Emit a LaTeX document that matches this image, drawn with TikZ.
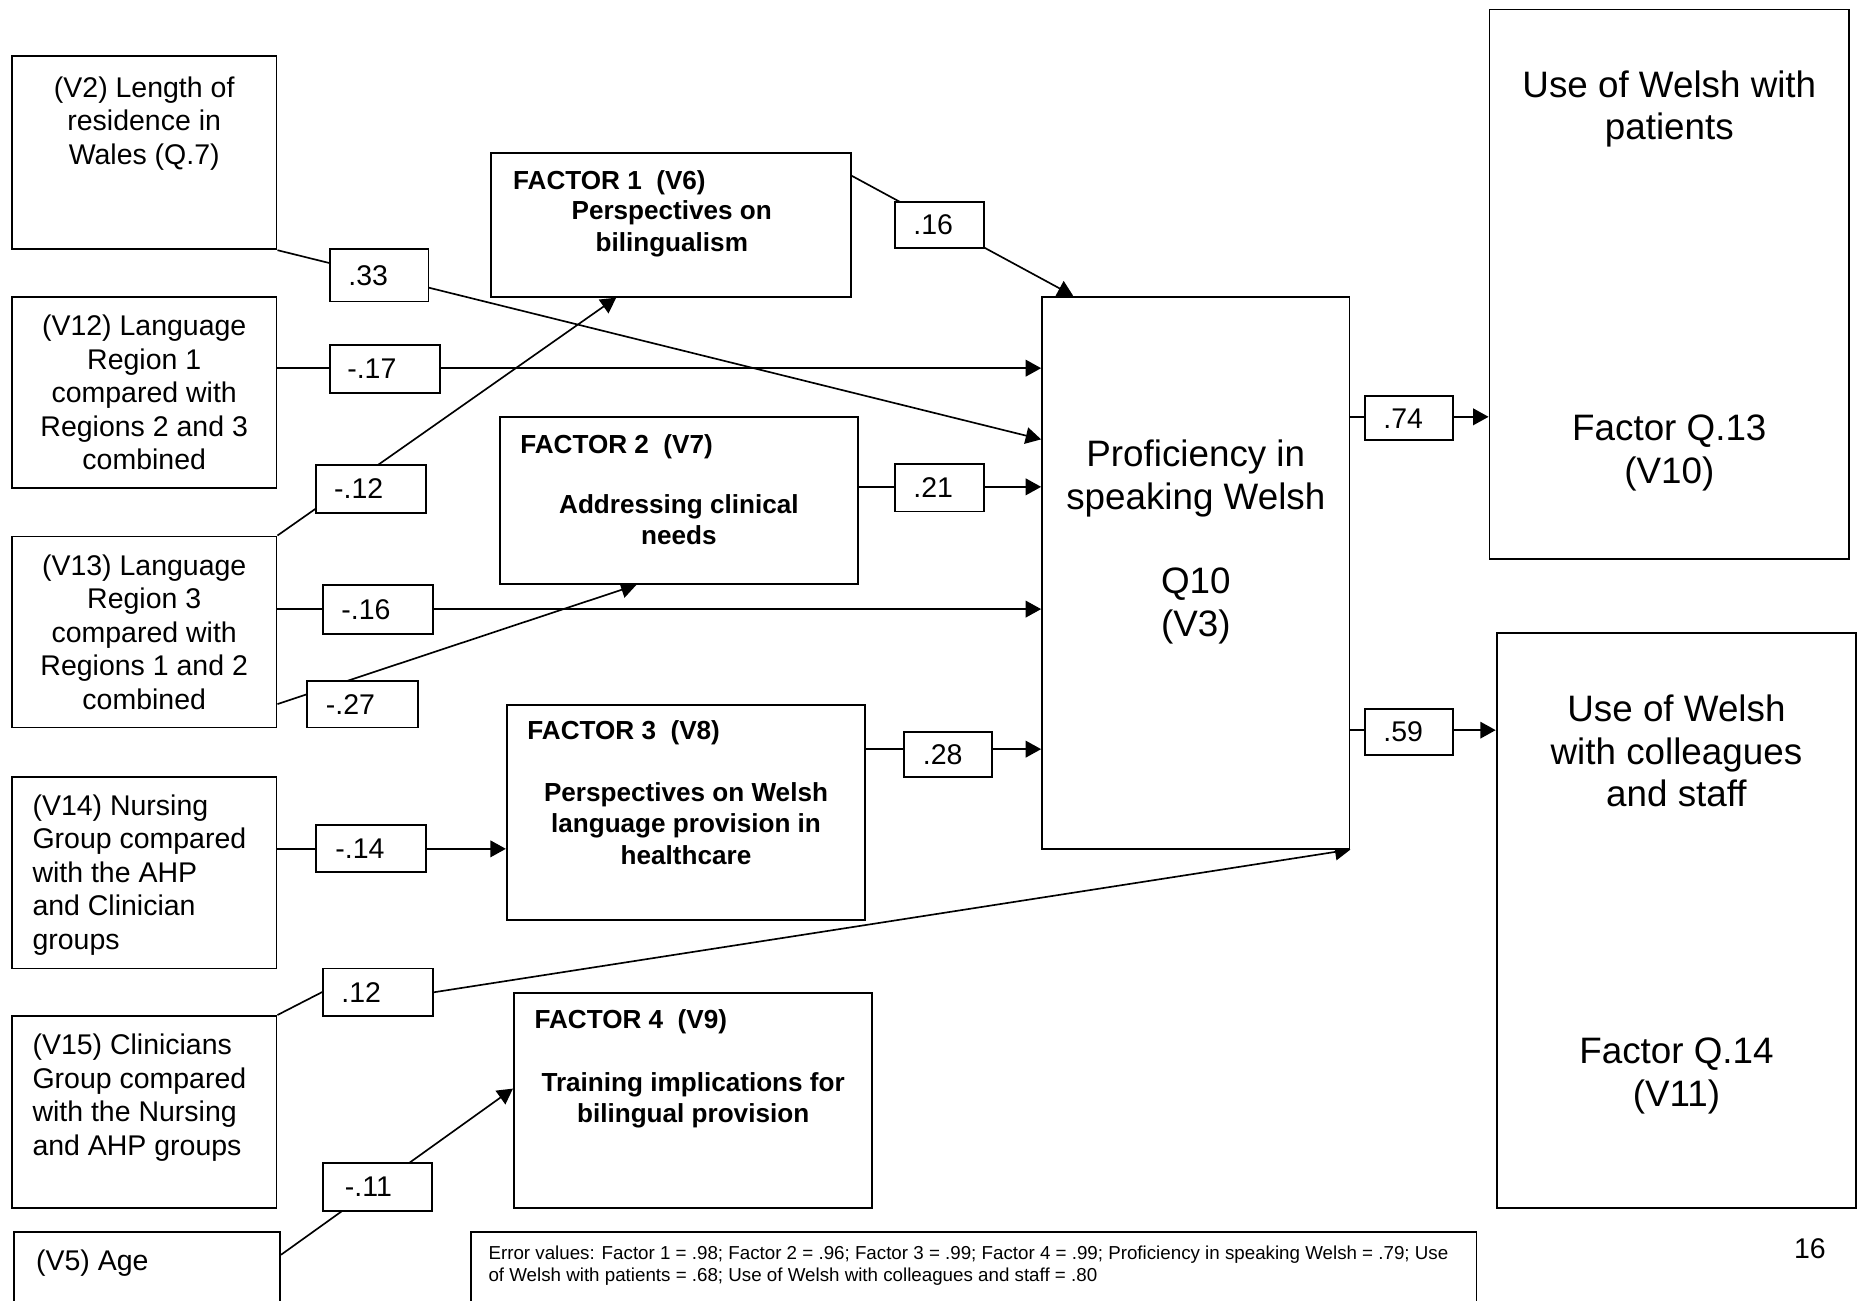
\documentclass[tikz,border=0pt]{standalone}
\usepackage{fontspec}
\setmainfont{Liberation Sans}
\usetikzlibrary{arrows.meta,calc,fit,backgrounds}

\begin{document}
\begin{tikzpicture}[x=0.5pt,y=-0.5pt,
  frame/.style={draw, line width=0.8pt, fill=white, inner sep=0pt},
  coef/.style={draw, line width=0.8pt, fill=white, inner sep=0pt},
  coeftext/.style={anchor=west, inner sep=0pt, font=\fontsize{12}{14}\selectfont},
  bodytext/.style={inner sep=0pt, font=\fontsize{12}{14.1}\selectfont},
  factortitle/.style={anchor=north west, inner sep=0pt, font=\fontsize{11}{13}\selectfont\bfseries},
  factortext/.style={anchor=north, inner sep=0pt, align=center, font=\fontsize{11}{13.2}\selectfont\bfseries},
  bigtext/.style={anchor=north, inner sep=0pt, align=center, font=\fontsize{15.5}{17.9}\selectfont},
  link/.style={line width=0.7pt, -{Triangle[length=6.5pt,width=7pt]}}
]
\useasboundingbox (0,0) rectangle (1568,1096);

% ---- predictor boxes (left column)
\node[frame, fit={(10,47) (233,210)}] (v2) {};
\node[frame, fit={(10,250) (233,411)}] (v12) {};
\node[frame, fit={(10,452) (233,613)}] (v13) {};
\node[frame, fit={(10,655) (233,816)}] (v14) {};
\node[frame, fit={(10,856) (233,1018)}] (v15) {};
\begin{scope}
  \clip (0,0) rectangle (1568,1096);
  \node[frame, fit={(12,1038) (236,1130)}] (v5) {};
  \node[frame, fit={(397,1038) (1244,1130)}] (err) {};
\end{scope}

\node[bodytext, anchor=north, align=center] (v2t) at (121.5,64)
  {(V2) Length of\\residence in\\Wales (Q.7)};
\node[bodytext, anchor=north, align=center] (v12t) at (121.5,265)
  {(V12) Language\\Region 1\\compared with\\Regions 2 and 3\\combined};
\node[bodytext, anchor=north, align=center] (v13t) at (121.5,467)
  {(V13) Language\\Region 3\\compared with\\Regions 1 and 2\\combined};
\node[bodytext, anchor=north west, align=left] (v14t) at (27,669)
  {(V14) Nursing\\Group compared\\with the AHP\\and Clinician\\groups};
\node[bodytext, anchor=north west, align=left] (v15t) at (27,871)
  {(V15) Clinicians\\Group compared\\with the Nursing\\and AHP groups};
\node[bodytext, anchor=north west] (v5t) at (30,1053) {(V5) Age};

% ---- factor boxes
\node[frame, fit={(414,129) (717,250)}] (f1) {};
\node[frame, fit={(421,351) (723,492)}] (f2) {};
\node[frame, fit={(427,594) (729,775)}] (f3) {};
\node[frame, fit={(433,837) (735,1018)}] (f4) {};

\node[factortitle] (f1h) at (432,143) {FACTOR 1~~(V6)};
\node[factortext] (f1t) at (566,169) {Perspectives on\\bilingualism};
\node[factortitle] (f2h) at (438,366) {FACTOR 2~~(V7)};
\node[factortext] (f2t) at (572,416) {Addressing clinical\\needs};
\node[factortitle] (f3h) at (444,607) {FACTOR 3~~(V8)};
\node[factortext] (f3t) at (578,659) {Perspectives on Welsh\\language provision in\\healthcare};
\node[factortitle] (f4h) at (450,850) {FACTOR 4~~(V9)};
\node[factortext] (f4t) at (584,903) {Training implications for\\bilingual provision};

% ---- outcome boxes
\node[frame, fit={(878,250) (1137,715)}] (prof) {};
\node[frame, fit={(1255,8) (1558,471)}] (pat) {};
\node[frame, fit={(1261,533) (1564,1018)}] (col) {};

\node[bigtext] (proft) at ($(prof.north)+(0,121)$)
  {Proficiency in\\speaking Welsh\\[17.9pt]Q10\\(V3)};
\node[bigtext] (patt1) at ($(pat.north)+(0,52)$) {Use of Welsh with\\patients};
\node[bigtext] (patt2) at ($(pat.north)+(0,342)$) {Factor Q.13\\(V10)};
\node[bigtext] (colt1) at ($(col.north)+(0,53)$) {Use of Welsh\\with colleagues\\and staff};
\node[bigtext] (colt2) at ($(col.north)+(0,342)$) {Factor Q.14\\(V11)};

% ---- path coefficients
\node[coef, fit={(278,210) (361,254)}] (l33) {};
\node[coef, fit={(278,291) (371,331)}] (l17n) {};
\node[coef, fit={(266,392) (359,432)}] (l12n) {};
\node[coef, fit={(754,170) (829,209)}] (l16) {};
\node[coef, fit={(754,391) (829,431)}] (l21) {};
\node[coef, fit={(272,493) (365,534)}] (l16n) {};
\node[coef, fit={(259,574) (352,613)}] (l27n) {};
\node[coef, fit={(762,617) (836,655)}] (l28) {};
\node[coef, fit={(266,695) (359,735)}] (l14n) {};
\node[coef, fit={(272,816) (365,856)}] (l12) {};
\node[coef, fit={(272,980) (364,1020)}] (l11n) {};
\node[coef, fit={(1150,334) (1224,371)}] (l74) {};
\node[coef, fit={(1150,597) (1224,636)}] (l59) {};

\node[coeftext] (t33) at ($(l33.west)+(16,0)$) {.33};
\node[coeftext] (t17n) at ($(l17n.west)+(15,0)$) {-.17};
\node[coeftext] (t12n) at ($(l12n.west)+(16,0)$) {-.12};
\node[coeftext] (t16) at ($(l16.west)+(16,0)$) {.16};
\node[coeftext] (t21) at ($(l21.west)+(16,0)$) {.21};
\node[coeftext] (t16n) at ($(l16n.west)+(16,0)$) {-.16};
\node[coeftext] (t27n) at ($(l27n.west)+(16,0)$) {-.27};
\node[coeftext] (t28) at ($(l28.west)+(16,0)$) {.28};
\node[coeftext] (t14n) at ($(l14n.west)+(17,0)$) {-.14};
\node[coeftext] (t12) at ($(l12.west)+(16,0)$) {.12};
\node[coeftext] (t11n) at ($(l11n.west)+(19,0)$) {-.11};
\node[coeftext] (t74) at ($(l74.west)+(16,0)$) {.74};
\node[coeftext] (t59) at ($(l59.west)+(16,0)$) {.59};

% ---- note and page number
\node[anchor=north west, inner sep=0pt, align=left,
      font=\fontsize{7.9}{9.5}\selectfont] (errt) at ($(err.north west)+(15,12)$)
  {Error values: Factor 1 = .98; Factor 2 = .96; Factor 3 = .99; Factor 4 = .99; Proficiency in speaking Welsh = .79; Use\\
   of Welsh with patients = .68; Use of Welsh with colleagues and staff = .80};
\node[bodytext] (page) at (1525,1052) {16};

% ---- connectors
\begin{pgfonlayer}{background}
\draw[link] (v2.south east) -- ($(prof.north west)+(0,121)$);
\draw[link] ($(v12.north east)+(0,61)$) -- ($(prof.north west)+(0,61)$);
\draw[link] (v13.north east) -- ($(f1.south west)+(106,0)$);
\draw[link] ($(v13.north east)+(0,62)$) -- ($(prof.north west)+(0,264)$);
\draw[link] ($(v13.north east)+(0,142)$) -- ($(f2.south west)+(116,0)$);
\draw[link] ($(v14.north east)+(0,61)$) -- ($(f3.north west)+(0,122)$);
\draw[link] (v15.north east) -- (l12.west) -- (l12.east) -- (prof.south east);
\draw[link] ($(v5.north east)+(0,20)$) -- ($(f4.north west)+(0,81)$);
\draw[link] ($(f1.north east)+(0,20)$) -- ($(prof.north west)+(27,0)$);
\draw[link] ($(f2.north east)+(0,60)$) -- ($(prof.north west)+(0,161)$);
\draw[link] ($(f3.north east)+(0,38)$) -- ($(prof.north west)+(0,382)$);
\draw[link] ($(prof.north east)+(0,102)$) -- ($(pat.north west)+(0,344)$);
\draw[link] ($(prof.north east)+(0,366)$) -- ($(col.north west)+(0,83)$);
\end{pgfonlayer}
\end{tikzpicture}
\end{document}
